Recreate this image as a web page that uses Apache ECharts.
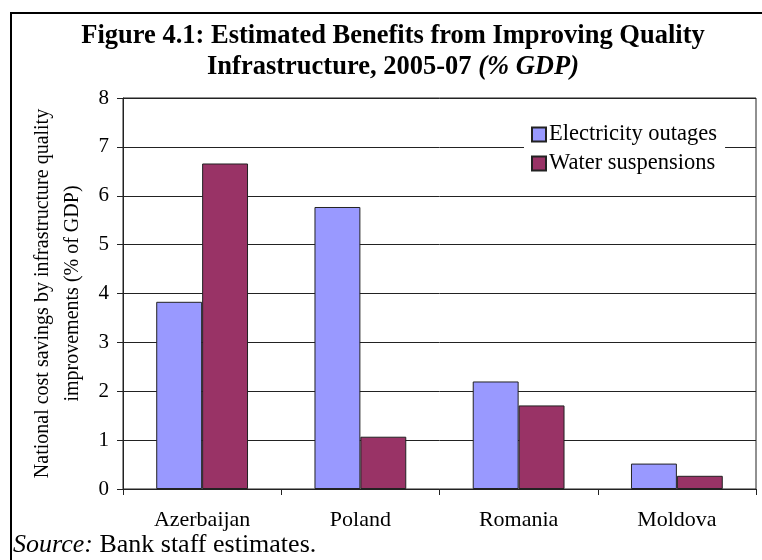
<!DOCTYPE html>
<html>
<head>
<meta charset="utf-8">
<script src="https://cdn.jsdelivr.net/npm/echarts@6/dist/echarts.min.js"></script>
<style>
html,body{margin:0;padding:0;background:#fff;}
#c{width:762px;height:560px;}
</style>
</head>
<body>
<div id="c"></div>
<script>
var categories = ['Azerbaijan', 'Poland', 'Romania', 'Moldova'];
var electricity = [3.83, 5.77, 2.2, 0.52];
var water = [6.66, 1.07, 1.71, 0.27];
var seriesNames = ['Electricity outages', 'Water suspensions'];
var yTicks = [0, 1, 2, 3, 4, 5, 6, 7, 8];

var FONT = "Liberation Serif";
var chart = echarts.init(document.getElementById('c'), null, {renderer: 'canvas'});
chart.setOption({
  animation: false,
  backgroundColor: '#fff',
  textStyle: {fontFamily: FONT, color: '#000'},
  title: {
    left: 388, top: 16, textAlign: 'center',
    text: '{b|Figure 4.1: Estimated Benefits from Improving Quality}\n{b|Infrastructure, 2005-07 }{bi|(% GDP)}',
    textStyle: {
      rich: {
        b: {fontFamily: FONT, fontWeight: 'bold', fontSize: 26.5, lineHeight: 31, color: '#000'},
        bi: {fontFamily: FONT, fontWeight: 'bold', fontStyle: 'italic', fontSize: 26.5, lineHeight: 31, color: '#000'}
      }
    }
  },
  legend: {
    left: 524, top: 119, orient: 'vertical',
    backgroundColor: '#fff',
    padding: [4, 8, 10, 7],
    itemWidth: 14, itemHeight: 14, itemGap: 6,
    icon: 'rect',
    textStyle: {fontFamily: FONT, fontSize: 22.5, color: '#000', lineHeight: 22, padding: [0,0,0,-2]},
    data: seriesNames
  },
  grid: {left: 123, top: 98, right: 6, bottom: 71, show: true, borderColor: '#222', borderWidth: 1, backgroundColor: 'transparent'},
  xAxis: {
    type: 'category', data: categories,
    axisLine: {lineStyle: {color: '#222', width: 1}},
    axisTick: {show: true, alignWithLabel: false, length: 6, lineStyle: {color: '#222'}},
    axisLabel: {fontFamily: FONT, fontSize: 22, color: '#000', margin: 20}
  },
  yAxis: {
    type: 'value', min: yTicks[0], max: yTicks[yTicks.length - 1], interval: 1,
    name: 'National cost savings by infrastructure quality\nimprovements (% of GDP)',
    nameLocation: 'middle', nameGap: 32, nameRotate: 90,
    nameTextStyle: {fontFamily: FONT, fontSize: 20, color: '#000', lineHeight: 30},
    axisLine: {show: true, lineStyle: {color: '#222', width: 1}},
    axisTick: {show: true, length: 6, lineStyle: {color: '#222'}},
    axisLabel: {fontFamily: FONT, fontSize: 21, color: '#000', margin: 14},
    splitLine: {show: true, lineStyle: {color: '#222', width: 1}}
  },
  series: [
    {name: seriesNames[0], type: 'bar', data: electricity, barGap: '0%', barCategoryGap: '42%',
     itemStyle: {color: '#9999FF', borderColor: '#222', borderWidth: 1}},
    {name: seriesNames[1], type: 'bar', data: water, barGap: '0%', barCategoryGap: '42%',
     itemStyle: {color: '#993366', borderColor: '#222', borderWidth: 1}}
  ],
  graphic: [
    {type: 'rect', shape: {x: 11, y: 13, width: 800, height: 600}, style: {fill: null, stroke: '#000', lineWidth: 2}, silent: true},
    {type: 'text', left: 13, top: 532, style: {text: '{i|Source:} Bank staff estimates.', rich: {i: {fontStyle: 'italic', fontFamily: FONT, fontSize: 26, fill: '#000'}}, fontFamily: FONT, fontSize: 26, fill: '#000'}}
  ]
});
</script>
</body>
</html>
